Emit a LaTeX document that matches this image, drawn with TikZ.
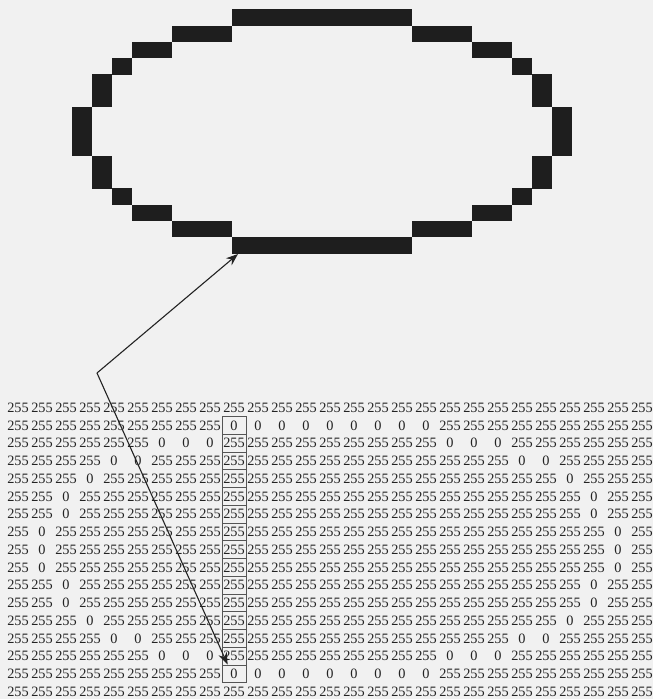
\documentclass[tikz,border=0pt]{standalone}
\usepackage{fontspec}
\setmainfont{Liberation Serif}
\usetikzlibrary{arrows.meta,calc}
\definecolor{bgc}{RGB}{241,241,241}
\definecolor{inkc}{RGB}{35,35,35}
\definecolor{pixc}{RGB}{30,30,30}
\definecolor{boxc}{RGB}{85,85,85}
\begin{document}
\begin{tikzpicture}[x=1pt,y=-1pt,
  cell/.style={inner sep=0pt, minimum width=24pt, minimum height=17.75pt,
    text height=9.7pt, text depth=0pt, font=\fontsize{14.3}{16}\selectfont, text=inkc},
  selcell/.style={cell, draw=boxc, line width=0.75pt},
  pix/.style={fill=pixc},
  pointer/.style={draw=inkc, line width=1.1pt, -{Stealth[length=12pt,width=9pt]}}]
\fill[bgc] (0,0) rectangle (653,699);
\useasboundingbox (0,0) rectangle (653,699);
% rows of the matrix: zero columns a..b and their mirror images
\foreach \a/\b [count=\ri] in {0/0,10/14,7/9,5/6,4/4,3/3,3/3,2/2,2/2,2/2,3/3,3/3,4/4,5/6,7/9,10/14,0/0}{
  \foreach \ci in {1,...,27}{
    \pgfmathtruncatemacro\z{((\ci>\a-1)&&(\ci<\b+1))||((28-\ci>\a-1)&&(28-\ci<\b+1))}
    \pgfmathtruncatemacro\s{(\ci==10)&&(\ri>1)&&(\ri<17)}
    \ifnum\z=1 \def\v{0}\else\def\v{255}\fi
    \ifnum\s=1 \def\st{selcell}\else\def\st{cell}\fi
    \node[\st] (m-\ri-\ci) at ({18+(\ci-1)*24},{407.5+(\ri-1)*17.75}) {\v};
    \ifnum\z=1
      \fill[pix] ({72+(\ci-2)*20},{9.3+(\ri-2)*16.27}) rectangle +(20.4,16.6);
    \fi
  }
}
\coordinate (hub) at (97,373);
\coordinate (tipA) at (238,254);
\draw[pointer] (hub) -- (tipA);
\draw[pointer] (hub) -- ($(m-16-10.north west)+(6,0)$);
\end{tikzpicture}
\end{document}
